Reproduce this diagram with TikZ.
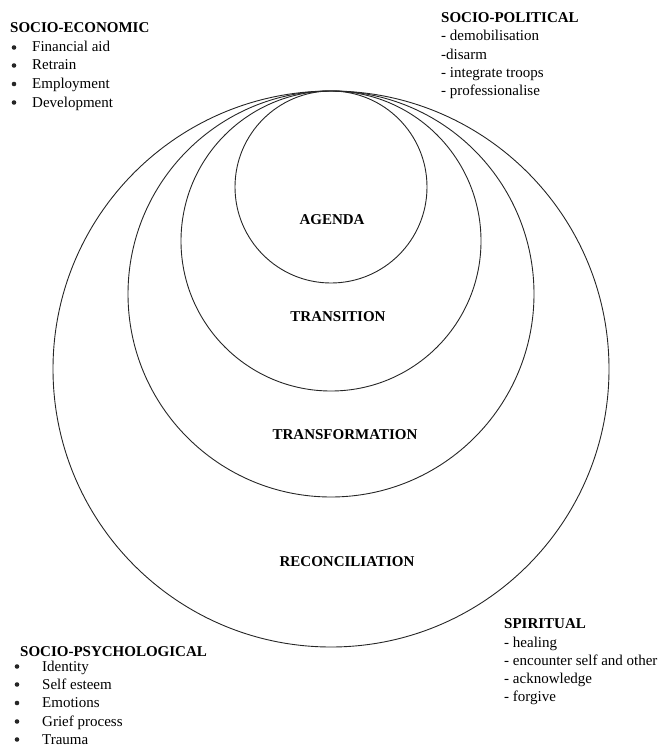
\documentclass[tikz,border=0pt]{standalone}
\usepackage{fontspec}
\setmainfont{Liberation Serif}
\begin{document}
\begin{tikzpicture}[x=1pt,y=-1pt,
  ring/.style={draw=black!85,line width=0.9pt},
  lbl/.style={font=\fontsize{15}{17}\selectfont\bfseries,anchor=base,inner sep=0pt},
  head/.style={font=\fontsize{15}{17}\selectfont\bfseries,anchor=base west,inner sep=0pt},
  item/.style={font=\fontsize{15}{17}\selectfont,anchor=base west,inner sep=0pt},
  dot/.style={fill=black!85}]
\useasboundingbox (0,0) rectangle (662,749);
% circles
\draw[ring] (331,369) circle (278);
\draw[ring] (331,294) circle (203);
\draw[ring] (331,241) circle (150);
\draw[ring] (331,187) circle (96);
% circle labels
\node[lbl] (agenda) at (332,224) {AGENDA};
\node[lbl] (transition) at (338,321) {TRANSITION};
\node[lbl] (transformation) at (345,439) {TRANSFORMATION};
\node[lbl] (reconciliation) at (347,566) {RECONCILIATION};
% socio-economic
\node[head] (se) at (10,33) {SOCIO-ECONOMIC};
\node[item] (se1) at (32,52) {Financial aid};
\node[item] (se2) at (32,70) {Retrain};
\node[item] (se3) at (32,88.5) {Employment};
\node[item] (se4) at (32,107) {Development};
\foreach \y in {52,70,88.5,107} \fill[dot] (14,\y-4.5) circle (2.3);
% socio-political
\node[head] (sp) at (441,23) {SOCIO-POLITICAL};
\node[item] (sp1) at (441,41) {- demobilisation};
\node[item] (sp2) at (441,59.5) {-disarm};
\node[item] (sp3) at (441,77.5) {- integrate troops};
\node[item] (sp4) at (441,96) {- professionalise};
% socio-psychological
\node[head] (ps) at (20,656) {SOCIO-PSYCHOLOGICAL};
\node[item] (ps1) at (42,671) {Identity};
\node[item] (ps2) at (42,689) {Self esteem};
\node[item] (ps3) at (42,707.5) {Emotions};
\node[item] (ps4) at (42,726) {Grief process};
\node[item] (ps5) at (42,744) {Trauma};
\foreach \y in {671,689,707.5,726,744} \fill[dot] (17,\y-4.5) circle (2.3);
% spiritual
\node[head] (spi) at (504,628) {SPIRITUAL};
\node[item] (spi1) at (504,647) {- healing};
\node[item] (spi2) at (504,665) {- encounter self and other};
\node[item] (spi3) at (504,683) {- acknowledge};
\node[item] (spi4) at (504,701) {- forgive};
\end{tikzpicture}
\end{document}
